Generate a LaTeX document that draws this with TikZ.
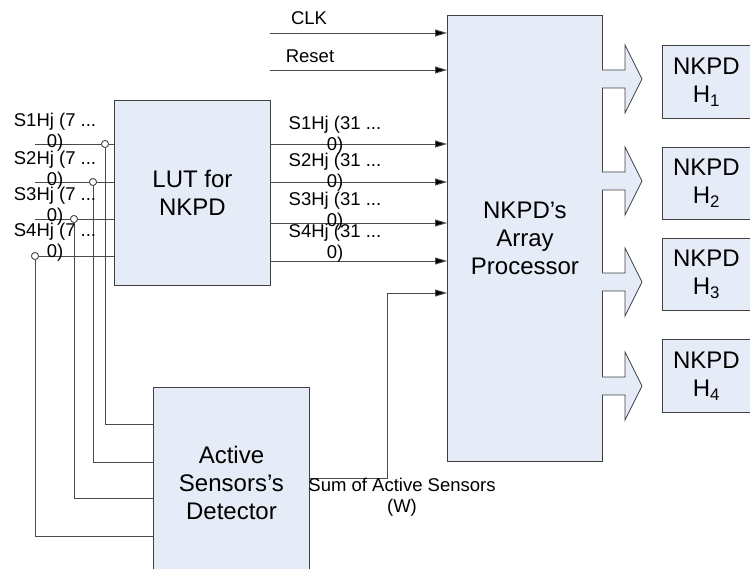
\documentclass[tikz,border=0pt]{standalone}
\usepackage{fontspec}
\setmainfont{Liberation Sans}
\usetikzlibrary{arrows.meta}
\definecolor{boxfill}{HTML}{E6ECF7}
\definecolor{boxline}{HTML}{404040}
\definecolor{wirec}{HTML}{4A4A4A}
\tikzset{
  blk/.style={draw=boxline, fill=boxfill, line width=0.9pt, inner sep=0pt, anchor=north west,
              font=\fontsize{24}{28}\selectfont, align=center},
  wire/.style={draw=wirec, line width=0.9pt},
  sig/.style={wire, -{Triangle[length=12pt,width=7pt,fill=black]}},
  small/.style={font=\fontsize{18.5}{21}\selectfont, align=center, inner sep=0pt},
  jn/.style={circle, draw=wirec, fill=white, minimum size=7pt, inner sep=0pt, line width=0.8pt},
  fat/.style={draw=boxline, fill=boxfill, line width=0.8pt, line join=miter}
}
\begin{document}
\begin{tikzpicture}[x=1pt,y=-1pt]
\useasboundingbox (0,0) rectangle (750,569);

% blocks
\node[blk, minimum width=156pt, minimum height=185pt] (lut) at (114,100) {LUT for\\NKPD};
\node[blk, minimum width=155pt, minimum height=446pt] (proc) at (447,15) {NKPD’s\\Array\\Processor};
\node[blk, minimum width=156pt, minimum height=190pt] (det) at (153,387) {Active\\Sensors’s\\Detector};
\node[blk, minimum width=88pt, minimum height=73pt] (o1) at (662,45) {NKPD\\H\textsubscript{1}};
\node[blk, minimum width=88pt, minimum height=72pt] (o2) at (662,147) {NKPD\\H\textsubscript{2}};
\node[blk, minimum width=88pt, minimum height=72pt] (o3) at (662,238) {NKPD\\H\textsubscript{3}};
\node[blk, minimum width=88pt, minimum height=73pt] (o4) at (662,339) {NKPD\\H\textsubscript{4}};

% CLK and Reset
\coordinate (clk) at (270,33);
\coordinate (rst) at (270,70);
\draw[sig] (clk) -- (proc.west |- clk);
\draw[sig] (rst) -- (proc.west |- rst);
\node[small] (clkl) at (309,18) {CLK};
\node[small] (rstl) at (310,56) {Reset};

% inputs to LUT
\foreach \i/\y in {1/144,2/182,3/219,4/256}{
  \coordinate (in\i) at (35,\y);
  \draw[wire] (in\i) -- (lut.west |- in\i);
}
% junctions
\node[jn] (j1) at (105,144) {};
\node[jn] (j2) at (93,182) {};
\node[jn] (j3) at (74,219) {};
\node[jn] (j4) at (35,256) {};
% taps to detector
\coordinate (d1) at (153,424);
\coordinate (d2) at (153,462);
\coordinate (d3) at (153,498);
\coordinate (d4) at (153,536);
\draw[wire] (j1.south) |- (d1);
\draw[wire] (j2.south) |- (d2);
\draw[wire] (j3.south) |- (d3);
\draw[wire] (j4.south) |- (d4);
\node[jn] at (j1) {};
\node[jn] at (j2) {};
\node[jn] at (j3) {};
\node[jn] at (j4) {};

% input labels
\node[small] (l1) at (55,132) {S1Hj (7 ...\\0)};
\node[small] (l2) at (55,170) {S2Hj (7 ...\\0)};
\node[small] (l3) at (55,206) {S3Hj (7 ...\\0)};
\node[small] (l4) at (55,242) {S4Hj (7 ...\\0)};

% LUT outputs
\foreach \i/\y in {1/144,2/182,3/223,4/261}{
  \coordinate (q\i) at (270,\y);
  \draw[sig] (q\i) -- (proc.west |- q\i);
}
\node[small] (r1) at (335,135) {S1Hj (31 ...\\0)};
\node[small] (r2) at (335,172) {S2Hj (31 ...\\0)};
\node[small] (r3) at (335,211) {S3Hj (31 ...\\0)};
\node[small] (r4) at (335,243) {S4Hj (31 ...\\0)};

% sum of active sensors
\coordinate (s0) at (det.east |- 0,478);
\coordinate (s1) at (387,478);
\coordinate (s2) at (387,293);
\draw[sig] (s0) -- (s1) -- (s2) -- (proc.west |- s2);
\node[small] (suml) at (402,497) {Sum of Active Sensors\\(W)};

% fat output arrows
\foreach \c/\n in {79/1,181/2,282/3,386/4}{
  \draw[fat] (602,\c-9) -- (625,\c-9) -- (625,\c-34) -- (642,\c) -- (625,\c+34) -- (625,\c+9) -- (602,\c+9);
}
\end{tikzpicture}
\end{document}
